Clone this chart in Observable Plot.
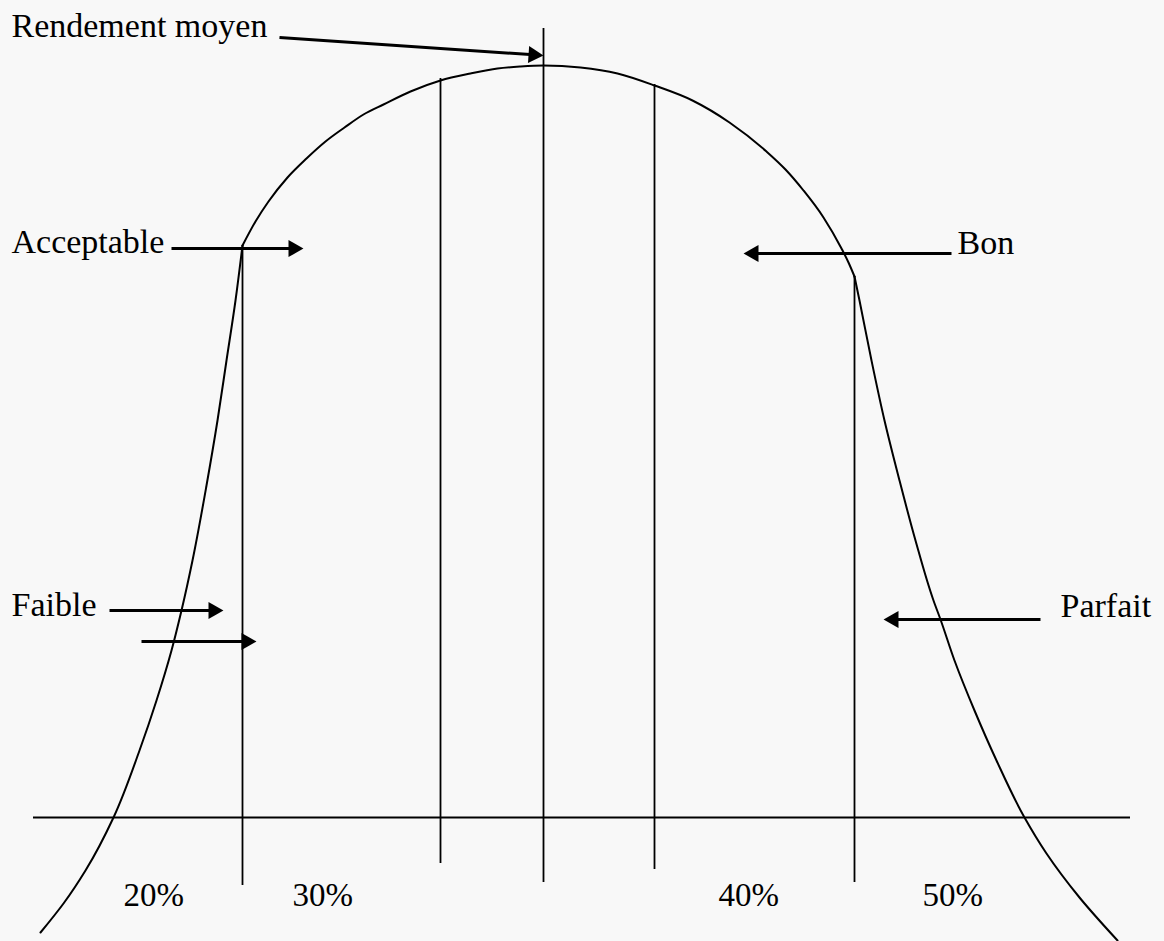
<!DOCTYPE html>
<html>
<head>
<meta charset="utf-8">
<script src="https://cdn.jsdelivr.net/npm/d3@7"></script>
<script src="https://cdn.jsdelivr.net/npm/@observablehq/plot@0.6"></script>
<style>
  html, body { margin: 0; padding: 0; background: #f8f8f8; }
  #chart svg { display: block; }
</style>
</head>
<body>
<div id="chart"></div>
<script>
// Diagram coordinates (x to the right, y downward)
const leftTailX  = [242, 235, 226, 217, 206, 192, 181, 171, 156, 139, 113, 85, 63, 40];
const leftTailY  = [245, 300, 360, 420, 485, 560, 610, 650, 700, 750, 817, 870, 903, 932];
const topArcX    = [242, 255, 268, 287, 306, 325, 344, 363, 383, 410, 440, 470, 497, 520, 543, 580, 617, 654, 692, 729, 766, 785, 803, 823, 841, 848, 854];
const topArcY    = [245, 221, 201, 177, 158, 141, 127, 114, 104, 91, 80, 73, 68, 66, 65, 67, 73, 85, 100, 122, 151, 169, 190, 217, 248, 262, 276];
const rightTailX = [854, 859, 871, 884, 899, 915, 933, 940, 954, 974, 996, 1024, 1046, 1079, 1117];
const rightTailY = [276, 300, 360, 420, 480, 540, 600, 619, 660, 710, 760, 817, 853, 897, 940];

// Vertical division lines
const dividerX    = [242, 440, 543, 654, 854];
const dividerTop  = [245, 78, 28, 84, 276];
const dividerBot  = [885, 863, 882, 869, 882];

// Horizontal base line
const baseY = 817, baseX1 = 33, baseX2 = 1130;

// Category labels and arrows
const labelText = ["Rendement moyen", "Acceptable", "Bon", "Faible", "Parfait"];
const labelX    = [11, 11, 957, 11, 1060];
const labelY    = [36, 252, 253, 615, 616];

const arrowX1 = [279, 171, 951, 109, 141, 1040];
const arrowY1 = [37, 248, 253, 610, 641, 619];
const arrowX2 = [543, 303, 743, 223, 256, 883];
const arrowY2 = [55, 248, 253, 610, 641, 619];

// Percentage labels
const pctText = ["20%", "30%", "40%", "50%"];
const pctX    = [123, 292, 718, 922];
const pctY    = [905, 905, 905, 905];

// Build tables
const leftTail  = leftTailX.map((x, i) => ({x, y: leftTailY[i]}));
const topArc    = topArcX.map((x, i) => ({x, y: topArcY[i]}));
const rightTail = rightTailX.map((x, i) => ({x, y: rightTailY[i]}));
const dividers = dividerX.map((x, i) => ({x, y1: dividerTop[i], y2: dividerBot[i]}));
const labels = labelText.map((t, i) => ({t, x: labelX[i], y: labelY[i]}));
const pcts = pctText.map((t, i) => ({t, x: pctX[i], y: pctY[i]}));
const arrows = arrowX1.map((x1, i) => {
  const x2 = arrowX2[i], y2 = arrowY2[i], y1 = arrowY1[i];
  const a = Math.atan2(y2 - y1, x2 - x1);
  return {x1, y1, x2, y2, a};
});
const HEAD = 10; // tip-to-centroid distance of the triangle head
const FONT = "Liberation Serif, Times New Roman, serif";

const W = 1164, H = 941;
const chart = Plot.plot({
  width: W,
  height: H,
  margin: 0,
  style: {background: "#f8f8f8"},
  x: {domain: [0, W], range: [0, W], axis: null},
  y: {domain: [0, H], range: [0, H], axis: null},
  marks: [
    Plot.ruleY([baseY], {x1: baseX1, x2: baseX2, stroke: "#000", strokeWidth: 2}),
    Plot.ruleX(dividers, {x: "x", y1: "y1", y2: "y2", stroke: "#000", strokeWidth: 1.8}),
    Plot.line(leftTail, {x: "x", y: "y", curve: "monotone-y", stroke: "#000", strokeWidth: 2}),
    Plot.line(topArc, {x: "x", y: "y", curve: "monotone-x", stroke: "#000", strokeWidth: 2}),
    Plot.line(rightTail, {x: "x", y: "y", curve: "monotone-y", stroke: "#000", strokeWidth: 2}),
    Plot.link(arrows, {x1: "x1", y1: "y1", x2: d => d.x2 - 6 * Math.cos(d.a), y2: d => d.y2 - 6 * Math.sin(d.a), stroke: "#000", strokeWidth: 3}),
    Plot.dot(arrows, {
      x: d => d.x2 - HEAD * Math.cos(d.a),
      y: d => d.y2 - HEAD * Math.sin(d.a),
      symbol: "triangle",
      r: 6.4,
      rotate: d => d.a * 180 / Math.PI + 90,
      fill: "#000",
      stroke: "none"
    }),
    Plot.text(labels, {x: "x", y: "y", text: "t", textAnchor: "start", lineAnchor: "bottom", fontSize: 34, fontFamily: FONT, fill: "#000"}),
    Plot.text(pcts, {x: "x", y: "y", text: "t", textAnchor: "start", lineAnchor: "bottom", fontSize: 33, fontFamily: FONT, fill: "#000"})
  ]
});
document.getElementById("chart").appendChild(chart);
</script>
</body>
</html>
